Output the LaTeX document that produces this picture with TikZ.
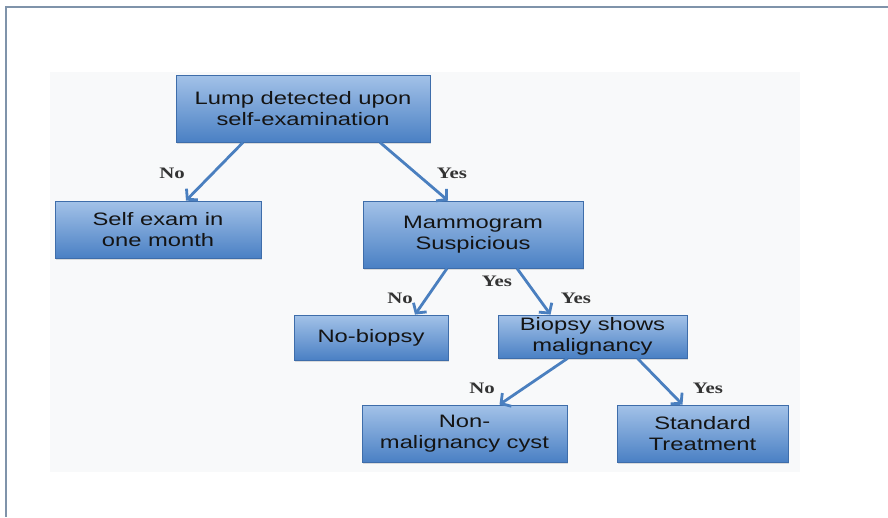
\documentclass[tikz,border=0pt]{standalone}
\usepackage{fontspec}
\usetikzlibrary{arrows.meta,shadows}
\newfontfamily\boxfont[FakeStretch=1.32]{Liberation Sans}
\newfontfamily\labfont[FakeStretch=1.3]{Liberation Serif}
\definecolor{boxtop}{HTML}{A3C2E8}
\definecolor{boxbot}{HTML}{4A80C4}
\definecolor{boxline}{HTML}{3E6DAA}
\definecolor{arrowblue}{HTML}{4A7FBF}
\definecolor{framegray}{HTML}{7F93AA}
\definecolor{panel}{HTML}{F8F9FA}
\tikzset{
  flowbox/.style={rectangle, draw=boxline, line width=0.8pt,
    top color=boxtop, bottom color=boxbot, inner sep=0pt,
    align=center, text=black!92, font=\boxfont\fontsize{18}{21}\selectfont,
    drop shadow={opacity=0.25, shadow xshift=1pt, shadow yshift=-2pt}},
  answer/.style={font=\labfont\bfseries\fontsize{16}{18}\selectfont, text=black!80},
  flow/.style={draw=arrowblue, line width=2.8pt,
    -{Straight Barb[length=7pt,width=16pt]}}
}
\begin{document}
\begin{tikzpicture}[x=1pt,y=-1pt]
      \useasboundingbox (0,0) rectangle (888,517);
      \fill[panel] (50,72) rectangle (800,472);
      \draw[framegray, line width=1.2pt] (888,7) -- (6,7) -- (6,517);
      \node[flowbox, minimum width=254, minimum height=67] (lump) at (303,108.5)
        {Lump detected upon\\self-examination};
      \node[flowbox, minimum width=206, minimum height=57] (selfexam) at (158,229.5)
        {Self exam in\\one month};
      \node[flowbox, minimum width=220, minimum height=67] (mammo) at (473,234.5)
        {Mammogram\\Suspicious};
      \node[flowbox, minimum width=154, minimum height=45] (nobiopsy) at (371,337.5)
        {No-biopsy};
      \node[flowbox, minimum width=189, minimum height=43] (biopsy) at (592.5,336.5)
        {Biopsy shows\\malignancy};
      \node[flowbox, minimum width=205, minimum height=57] (cyst) at (464.5,433.5)
        {Non-\\malignancy cyst};
      \node[flowbox, minimum width=171, minimum height=57] (treat) at (702.5,433.5)
        {Standard\\Treatment};
      \begin{scope}[flow]
        \draw ([xshift=-60pt]lump.south) to ([xshift=28pt]selfexam.north);
        \draw ([xshift=77pt]lump.south) to ([xshift=-25pt]mammo.north);
        \draw ([xshift=-26pt]mammo.south) to ([xshift=44pt]nobiopsy.north);
        \draw ([xshift=44pt]mammo.south) to ([xshift=-42pt]biopsy.north);
        \draw ([xshift=-25pt]biopsy.south) to ([xshift=35pt]cyst.north);
        \draw ([xshift=45pt]biopsy.south) to ([xshift=-20pt]treat.north);
      \end{scope}
      \node[answer] (no1) at (172,173) {No};
      \node[answer] (yes1) at (452,173) {Yes};
      \node[answer] (no2) at (400,298) {No};
      \node[answer] (yes2) at (497,281) {Yes};
      \node[answer] (yes3) at (576,298) {Yes};
      \node[answer] (no3) at (482,388) {No};
      \node[answer] (yes4) at (708,388) {Yes};
    \end{tikzpicture}
\end{document}
